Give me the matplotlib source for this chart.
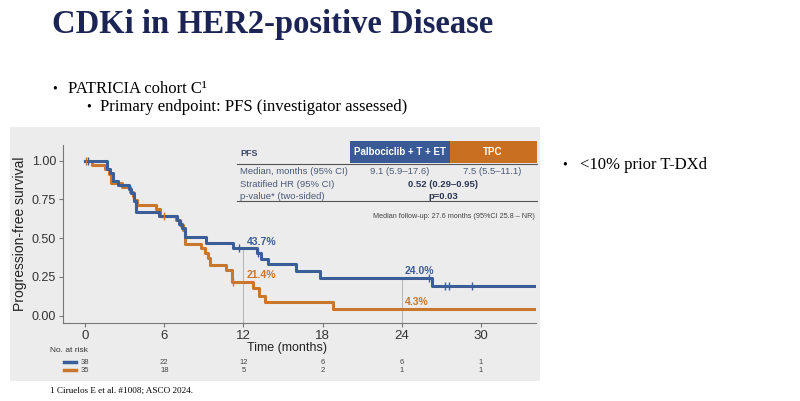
import matplotlib
matplotlib.use('Agg')
import matplotlib.pyplot as plt
from matplotlib.patches import Rectangle
from matplotlib.lines import Line2D
import matplotlib.transforms as mtransforms
import numpy as np

# KM curves (time in months, survival)
blue_t = [0, 1.65, 1.9, 2.1, 2.5, 3.3, 3.5, 3.7, 3.85, 5.6, 6.95, 7.15, 7.35, 7.6, 9.2, 11.2, 13.0, 13.3, 13.9, 16.0, 17.8, 26.3, 34.0]
blue_s = [1.0, 0.947, 0.921, 0.868, 0.842, 0.816, 0.789, 0.737, 0.67, 0.645, 0.618, 0.592, 0.566, 0.505, 0.471, 0.437, 0.406, 0.366, 0.33, 0.285, 0.24, 0.192, 0.192]
blue_cens_t = [0.2, 7.3, 11.7, 13.1, 26.1, 27.3, 27.6, 29.3]

orange_t = [0, 0.5, 1.5, 1.8, 1.95, 2.8, 3.4, 3.6, 3.7, 3.9, 5.4, 5.7, 6.9, 7.2, 7.4, 7.6, 8.8, 9.1, 9.3, 9.45, 10.7, 11.1, 12.7, 13.2, 13.6, 18.8, 34.0]
orange_s = [1.0, 0.971, 0.943, 0.914, 0.857, 0.829, 0.8, 0.771, 0.743, 0.714, 0.686, 0.645, 0.615, 0.585, 0.555, 0.464, 0.435, 0.403, 0.37, 0.327, 0.295, 0.214, 0.18, 0.13, 0.086, 0.043, 0.043]
orange_cens_t = [0.1, 6.0, 11.2]

risk_times = [0, 6, 12, 18, 24, 30]
risk_blue = [38, 22, 12, 6, 6, 1]
risk_orange = [35, 18, 5, 2, 1, 1]

BLUE = '#3c5e98'
ORANGE = '#c8772c'
NAVY = '#1c2455'
SERIF = 'Liberation Serif'
W, H = 800, 401

plt.rcParams['font.family'] = ['Liberation Sans', 'DejaVu Sans']


def fx(x):
    return x / W


def fy(y):
    return 1 - y / H


def surv_at(t, ts, ss):
    idx = np.searchsorted(ts, t, side='right') - 1
    return ss[idx]


fig = plt.figure(figsize=(8, 4.01), dpi=100)
fig.patch.set_facecolor('white')

# slide texts
fig.text(fx(52), fy(25), 'CDKi in HER2-positive Disease', family=SERIF,
         weight='bold', size=23.5, color=NAVY, va='center')
fig.text(fx(52), fy(89), '•', family=SERIF, size=10, va='center')
fig.text(fx(68), fy(89), 'PATRICIA cohort C¹', family=SERIF, size=12, va='center')
fig.text(fx(86), fy(107), '•', family=SERIF, size=10, va='center')
fig.text(fx(100), fy(107), 'Primary endpoint: PFS (investigator assessed)', family=SERIF,
         size=12, va='center')
fig.text(fx(562), fy(165), '•', family=SERIF, size=10, va='center')
fig.text(fx(580), fy(165), '<10% prior T-DXd', family=SERIF, size=12, va='center')
fig.text(fx(50), fy(391), '1 Ciruelos E et al. #1008; ASCO 2024.', family=SERIF,
         size=6.6, va='center')

# gray panel behind the chart
fig.add_artist(Rectangle((fx(10), fy(381)), fx(530), (381 - 127) / H,
                         transform=fig.transFigure, facecolor='#ececec', edgecolor='none', zorder=0))

ax = fig.add_axes([fx(63), fy(323), fx(536 - 63), (323 - 145) / H])
ax.set_facecolor('none')
ax.set_xlim(-1.67, 34.17)
ax.set_ylim(-0.047, 1.10)

ax.step(blue_t, blue_s, where='post', color=BLUE, lw=2.2, zorder=3)
ax.step(orange_t, orange_s, where='post', color=ORANGE, lw=2.2, zorder=2)
ax.plot(blue_cens_t, [surv_at(t, blue_t, blue_s) for t in blue_cens_t], ls='none',
        marker='|', ms=6, mew=1, color=BLUE, zorder=4)
ax.plot(orange_cens_t, [surv_at(t, orange_t, orange_s) for t in orange_cens_t], ls='none',
        marker='|', ms=6, mew=1, color=ORANGE, zorder=4)

# reference lines at 12 and 24 months
ax.vlines([12, 24], -0.047, [0.437, 0.24], color='#b8b8b8', lw=0.8, zorder=1)
ax.text(12.25, 0.475, '43.7%', color=BLUE, weight='bold', size=7.5, va='center')
ax.text(12.25, 0.26, '21.4%', color=ORANGE, weight='bold', size=7.5, va='center')
ax.text(24.25, 0.29, '24.0%', color=BLUE, weight='bold', size=7.5, va='center')
ax.text(24.25, 0.09, '4.3%', color=ORANGE, weight='bold', size=7.5, va='center')

ax.set_xticks(risk_times)
ax.set_yticks([0, 0.25, 0.5, 0.75, 1.0])
ax.set_yticklabels(['0.00', '0.25', '0.50', '0.75', '1.00'])
ax.tick_params(axis='x', labelsize=9.5, colors='#333333', length=3, color='#777777', pad=2)
ax.tick_params(axis='y', labelsize=9, colors='#333333', length=3, color='#777777', pad=2)
for s in ['top', 'right']:
    ax.spines[s].set_visible(False)
for s in ['left', 'bottom']:
    ax.spines[s].set_color('#777777')
ax.set_ylabel('Progression-free survival', size=10, color='#222222')
ax.yaxis.set_label_coords((27 - 63) / 473, 0.5)
ax.set_xlabel('Time (months)', size=9, color='#222222')
ax.xaxis.set_label_coords((287 - 63) / 473, -(348 - 323) / 178)
ax.xaxis.label.set_va('center')

# number at risk
fig.text(fx(50), fy(350), 'No. at risk', size=6, color='#333333', va='center')
fig.add_artist(Line2D([fx(64), fx(76)], [fy(362), fy(362)], color=BLUE, lw=2.5, transform=fig.transFigure))
fig.add_artist(Line2D([fx(64), fx(76)], [fy(370), fy(370)], color=ORANGE, lw=2.5, transform=fig.transFigure))
tr = mtransforms.blended_transform_factory(ax.transData, fig.transFigure)
for t, b, o in zip(risk_times, risk_blue, risk_orange):
    ax.text(t, fy(362), str(b), transform=tr, size=5.5, color='#444444', ha='center', va='center')
    ax.text(t, fy(370), str(o), transform=tr, size=5.5, color='#444444', ha='center', va='center')

# summary table
fig.add_artist(Rectangle((fx(350), fy(163)), fx(100), 22 / H, transform=fig.transFigure,
                         facecolor='#3a5a96', edgecolor='none'))
fig.add_artist(Rectangle((fx(450), fy(163)), fx(87), 22 / H, transform=fig.transFigure,
                         facecolor='#c96f22', edgecolor='none'))
fig.text(fx(240), fy(153), 'PFS', size=6.5, weight='bold', color='#3a4a6a', va='center')
fig.text(fx(400), fy(152), 'Palbociclib + T + ET', size=7, weight='bold', color='white',
         ha='center', va='center')
fig.text(fx(493), fy(152), 'TPC', size=7, weight='bold', color='white', ha='center', va='center')
fig.add_artist(Line2D([fx(237), fx(537)], [fy(164), fy(164)], color='#555555', lw=0.8,
                      transform=fig.transFigure))
fig.add_artist(Line2D([fx(237), fx(537)], [fy(201), fy(201)], color='#555555', lw=0.8,
                      transform=fig.transFigure))
rows = ['Median, months (95% CI)', 'Stratified HR (95% CI)', 'p-value* (two-sided)']
for i, r in enumerate(rows):
    fig.text(fx(240), fy(172 + 12.5 * i), r, size=6.8, color='#4a5a78', va='center')
fig.text(fx(400), fy(172), '9.1 (5.9–17.6)', size=6.8, color='#4a5a78', ha='center', va='center')
fig.text(fx(492), fy(172), '7.5 (5.5–11.1)', size=6.8, color='#4a5a78', ha='center', va='center')
fig.text(fx(443), fy(184.5), '0.52 (0.29–0.95)', size=6.8, weight='bold', color='#2a3550',
         ha='center', va='center')
fig.text(fx(443), fy(197), 'p=0.03', size=6.8, weight='bold', color='#2a3550', ha='center', va='center')
fig.text(fx(535), fy(216), 'Median follow-up: 27.6 months (95%CI 25.8 – NR)', size=5.2,
         color='#444444', ha='right', va='center')

fig.savefig('out.png', dpi=100)
